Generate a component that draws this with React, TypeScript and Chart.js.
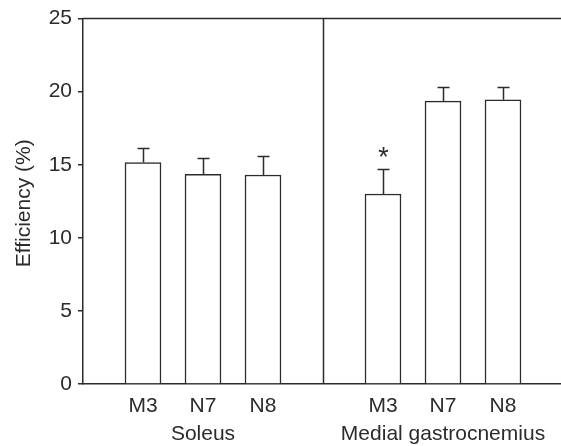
import React, { useEffect, useRef } from "react";
import { Chart, registerables } from "chart.js";

Chart.register(...registerables);

const positions = [1, 2, 3, 5, 6, 7];
const conditions = ["M3", "N7", "N8", "M3", "N7", "N8"];
const efficiency = [15.15, 14.35, 14.3, 13.0, 19.35, 19.45];
const sem = [1.0, 1.1, 1.3, 1.7, 1.0, 0.9];
const significant = [false, false, false, true, false, false];
const muscles = ["Soleus", "Medial gastrocnemius"];
const musclePositions = [2, 6];
const dividerAt = 4;
const yTicks = [0, 5, 10, 15, 20, 25];

const INK = "#2b2b2b";
const FONT = "Liberation Sans, Arial, Helvetica, sans-serif";
const FS = 21;

const decorPlugin = {
  id: "decor",
  afterDatasetsDraw(chart: any) {
    const { ctx, chartArea, scales } = chart;
    const x = scales.x;
    const y = scales.y;
    ctx.save();
    ctx.strokeStyle = INK;
    ctx.lineWidth = 1.5;
    // top frame line
    ctx.beginPath();
    ctx.moveTo(chartArea.left, chartArea.top);
    ctx.lineTo(chartArea.right, chartArea.top);
    ctx.stroke();
    // divider
    const dx = Math.round(x.getPixelForValue(dividerAt)) + 0.5;
    ctx.beginPath();
    ctx.moveTo(dx, chartArea.top);
    ctx.lineTo(dx, chartArea.bottom);
    ctx.stroke();
    // error bars
    positions.forEach((p, i) => {
      const cx = Math.round(x.getPixelForValue(p)) + 0.5;
      const yTop = y.getPixelForValue(efficiency[i]);
      const yErr = Math.round(y.getPixelForValue(efficiency[i] + sem[i])) + 0.5;
      ctx.beginPath();
      ctx.moveTo(cx, yTop);
      ctx.lineTo(cx, yErr);
      ctx.moveTo(cx - 6, yErr);
      ctx.lineTo(cx + 6, yErr);
      ctx.stroke();
      if (significant[i]) {
        ctx.fillStyle = INK;
        ctx.font = `27px ${FONT}`;
        ctx.textAlign = "center";
        ctx.textBaseline = "middle";
        ctx.fillText("*", cx, yErr - 11);
      }
    });
    // muscle group labels
    ctx.fillStyle = INK;
    ctx.font = `${FS}px ${FONT}`;
    ctx.textAlign = "center";
    ctx.textBaseline = "middle";
    muscles.forEach((m, i) => {
      ctx.fillText(m, x.getPixelForValue(musclePositions[i]), chartArea.bottom + 50);
    });
    // y title
    ctx.translate(24, (chartArea.top + chartArea.bottom) / 2 + 2);
    ctx.rotate(-Math.PI / 2);
    ctx.fillText("Efficiency (%)", 0, 0);
    ctx.restore();
  },
};

export default function App() {
  const ref = useRef<HTMLCanvasElement>(null);
  useEffect(() => {
    if (!ref.current) return;
    const chart = new Chart(ref.current, {
      type: "bar",
      data: {
        datasets: [
          {
            data: positions.map((p, i) => ({ x: p, y: efficiency[i] })),
            backgroundColor: "#ffffff",
            borderColor: INK,
            borderWidth: 1.5,
            borderSkipped: "bottom",
            barThickness: 36,
          },
        ],
      },
      options: {
        responsive: false,
        animation: false,
        layout: { padding: { top: 17, right: 12, left: 0, bottom: 0 } },
        plugins: { legend: { display: false }, tooltip: { enabled: false } },
        scales: {
          x: {
            type: "linear",
            min: 0,
            max: 8,
            offset: false,
            afterFit: (s: any) => {
              s.height = 62;
            },
            afterBuildTicks: (s: any) => {
              s.ticks = positions.map((p) => ({ value: p }));
            },
            grid: { display: false, drawTicks: false },
            border: { display: true, color: INK, width: 1.5 },
            ticks: {
              autoSkip: false,
              maxRotation: 0,
              padding: 10,
              color: INK,
              font: { family: FONT, size: FS },
              callback: (v: any) => {
                const idx = positions.indexOf(Number(v));
                return idx >= 0 ? conditions[idx] : "";
              },
            },
          },
          y: {
            min: 0,
            max: 25,
            afterFit: (s: any) => {
              s.width = 83;
            },
            afterBuildTicks: (s: any) => {
              s.ticks = yTicks.map((v) => ({ value: v }));
            },
            grid: { drawOnChartArea: false, drawTicks: true, tickLength: 5, color: INK, lineWidth: 1.5 },
            border: { display: true, color: INK, width: 1.5 },
            ticks: {
              padding: 6,
              color: INK,
              font: { family: FONT, size: FS },
            },
          },
        },
      },
      plugins: [decorPlugin],
    });
    return () => chart.destroy();
  }, []);
  return (
    <div style={{ position: "fixed", left: 0, top: 0, width: 561, height: 446, overflow: "hidden", background: "#fff" }}>
      <canvas ref={ref} width={575} height={446} style={{ width: 575, height: 446, display: "block" }} />
    </div>
  );
}
